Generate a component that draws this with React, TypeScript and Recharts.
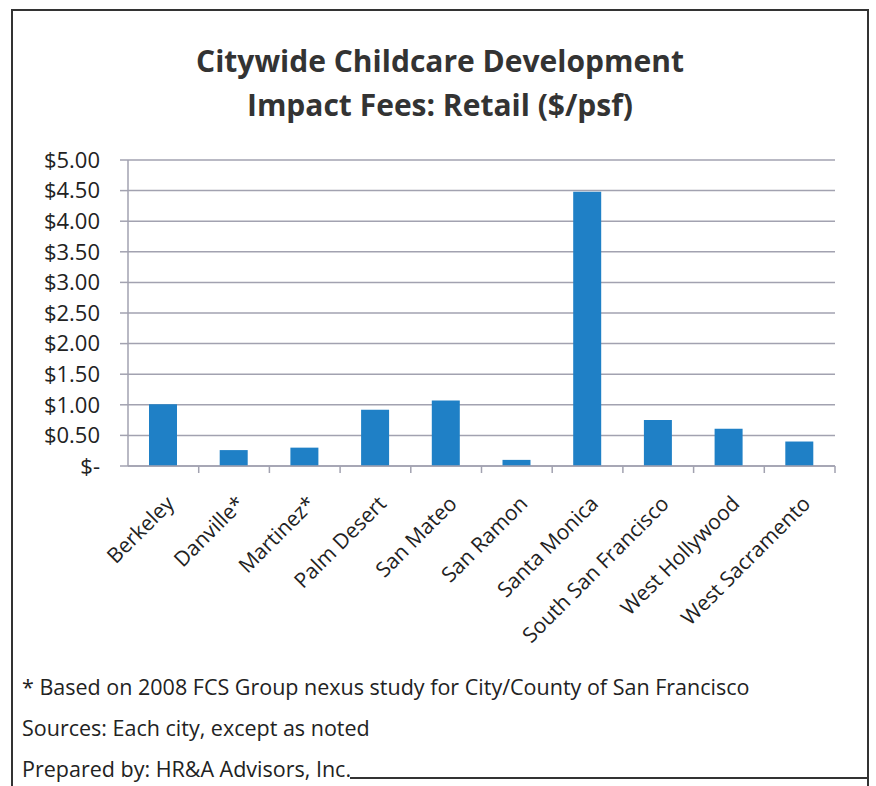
import { Bar, BarChart, CartesianGrid, XAxis, YAxis } from "recharts";

const cities = [
  "Berkeley",
  "Danville*",
  "Martinez*",
  "Palm Desert",
  "San Mateo",
  "San Ramon",
  "Santa Monica",
  "South San Francisco",
  "West Hollywood",
  "West Sacramento",
];
const fees = [1.01, 0.26, 0.3, 0.92, 1.07, 0.1, 4.48, 0.75, 0.61, 0.4];
const yTicks = [0, 0.5, 1, 1.5, 2, 2.5, 3, 3.5, 4, 4.5, 5];
const titleLines = ["Citywide Childcare Development", "Impact Fees: Retail ($/psf)"];
const notes = [
  "* Based on 2008 FCS Group nexus study for City/County of San Francisco",
  "Sources: Each city, except as noted",
  "Prepared by: HR&A Advisors, Inc.",
];

const data = cities.map((city, i) => ({ city, fee: fees[i] }));

const font = "'Open Sans', sans-serif";
const gridColor = "#a2a2b0";
const band = (835 - 128) / cities.length;

const money = (v: number) => (v === 0 ? "$-" : `$${v.toFixed(2)}`);

function CityTick({ x, y, payload }: any) {
  const tx = x + 12;
  const ty = y + 39;
  return (
    <g>
      <line x1={x + band / 2} y1={y} x2={x + band / 2} y2={y + 7} stroke={gridColor} strokeWidth={1.5} />
      <text
        x={tx}
        y={ty}
        textAnchor="end"
        transform={`rotate(-45 ${tx} ${ty})`}
        fontFamily={font}
        fontSize={21}
        fill="#222"
      >
        {payload.value}
      </text>
    </g>
  );
}

export default function App() {
  return (
    <div
      style={{
        position: "fixed",
        left: 0,
        top: 0,
        width: 876,
        height: 786,
        background: "#fff",
        fontFamily: font,
        overflow: "hidden",
      }}
    >
      <div
        style={{
          position: "absolute",
          left: 11,
          top: 9,
          width: 854,
          height: 800,
          border: "2px solid #333",
        }}
      />
      <div
        style={{
          position: "absolute",
          left: 350,
          top: 777,
          width: 518,
          height: 2,
          background: "#333",
        }}
      />
      {titleLines.map((t, i) => (
        <div
          key={t}
          style={{
            position: "absolute",
            left: 0,
            width: 880,
            top: 40 + i * 44,
            textAlign: "center",
            fontSize: 30,
            fontWeight: 700,
            color: "#333",
            lineHeight: "42px",
          }}
        >
          {t}
        </div>
      ))}
      <div style={{ position: "absolute", left: 0, top: 0 }}>
        <BarChart
          width={876}
          height={786}
          data={data}
          margin={{ top: 160, right: 41, left: 28, bottom: 0 }}
        >
          <CartesianGrid vertical={false} stroke={gridColor} strokeWidth={1.5} />
          <XAxis
            dataKey="city"
            interval={0}
            height={320}
            tickSize={0}
            tickMargin={0}
            tick={<CityTick />}
            axisLine={{ stroke: gridColor, strokeWidth: 1.5 }}
          />
          <YAxis
            domain={[0, 5]}
            ticks={yTicks}
            interval={0}
            width={100}
            tickFormatter={money}
            tickSize={8}
            tickMargin={20}
            tick={{ fontFamily: font, fontSize: 22, fill: "#222" }}
            axisLine={{ stroke: gridColor, strokeWidth: 1.5 }}
            tickLine={{ stroke: gridColor, strokeWidth: 1.5 }}
          />
          <Bar dataKey="fee" fill="#1f80c6" barSize={28} isAnimationActive={false} />
        </BarChart>
      </div>
      {notes.map((n, i) => (
        <div
          key={n}
          style={{
            position: "absolute",
            left: 22,
            top: 672 + i * 41,
            fontSize: 21.5,
            color: "#222",
            lineHeight: "30px",
            whiteSpace: "nowrap",
          }}
        >
          {n}
        </div>
      ))}
    </div>
  );
}
